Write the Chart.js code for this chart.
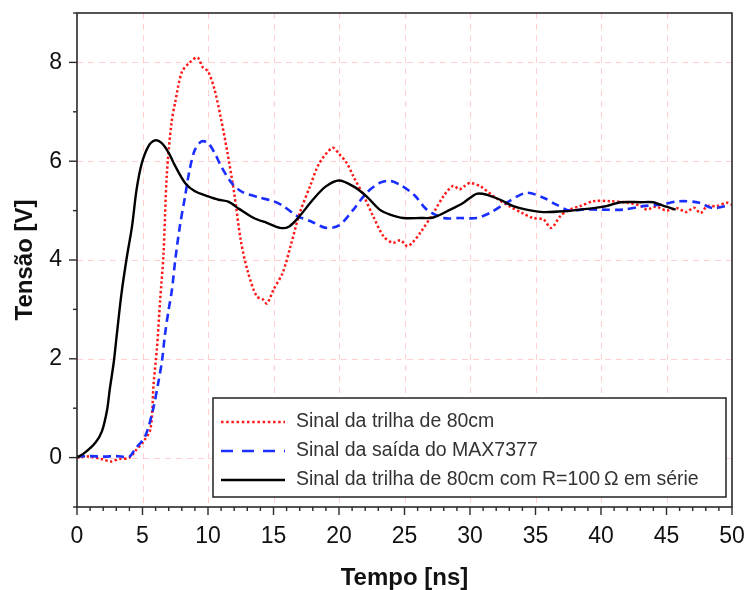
<!DOCTYPE html>
<html>
<head>
<meta charset="utf-8">
<script src="https://cdn.jsdelivr.net/npm/chart.js@4/dist/chart.umd.min.js"></script>
<style>
  html, body { margin: 0; padding: 0; background: #fff; }
  #wrap { width: 747px; height: 590px; }
</style>
</head>
<body>
<div id="wrap"><canvas id="c" width="747" height="590"></canvas></div>
<script>
// ---- data ----
const seriesNames = [
  'Sinal da trilha de 80cm',
  'Sinal da saída do MAX7377',
  'Sinal da trilha de 80cm com R=100\u2009Ω em série'
];
const xTicks = [0, 5, 10, 15, 20, 25, 30, 35, 40, 45, 50];
const yTicks = [0, 2, 4, 6, 8];

const redT = [0,1,2,2.6,3.2,4,4.5,5,5.6,5.85,6.1,6.35,6.6,6.85,7.2,7.5,8,8.6,9.2,9.6,10,10.5,11,11.5,12,12.5,13,13.7,14.2,14.5,15,15.7,16.3,17,17.8,18.5,19.5,20,20.6,21.1,21.9,22.6,23.4,24.1,24.7,25.2,25.6,26.2,27.2,28,28.7,29.2,29.6,30,30.8,31.8,33,34,34.8,35.6,36.2,36.9,37.6,38.4,39.4,40.7,42,43,43.5,44.2,45,45.8,46.5,47.1,47.6,48.1,48.8,49.6,50];
const redV = [0,0.02,-0.04,-0.08,-0.03,0,0.15,0.3,0.57,1.5,2.2,3.2,4.1,5.7,6.75,7.2,7.8,8.0,8.1,7.9,7.82,7.45,6.85,6.15,5.35,4.4,3.8,3.27,3.2,3.12,3.4,3.74,4.28,4.95,5.5,5.96,6.27,6.15,5.96,5.69,5.29,4.89,4.48,4.35,4.4,4.28,4.35,4.55,4.95,5.3,5.5,5.43,5.5,5.56,5.49,5.29,5.09,4.95,4.85,4.82,4.65,4.89,5.02,5.09,5.19,5.19,5.16,5.1,5.02,5.08,5.0,5.05,4.97,5.06,4.95,5.09,5.09,5.16,5.12];

const blueT = [0,1,2,3,4,4.4,5.2,5.8,6.2,6.5,6.7,7,7.25,7.5,7.85,8.25,8.6,9,9.5,10,10.5,11,11.8,12.6,14,15,15.75,16.8,17.8,19,20,21.1,22.1,23.1,23.9,24.8,25.8,26.7,28,29.2,30.5,31.5,32.8,34.3,35.6,36.6,37.6,38.5,40,41.7,43.2,44.5,46,47.5,48.5,49.5];
const blueV = [0.02,0.03,0.02,0.03,0.02,0.16,0.43,0.97,1.51,1.98,2.46,3.0,3.4,4.0,4.68,5.29,5.83,6.23,6.4,6.37,6.17,5.9,5.56,5.38,5.26,5.19,5.09,4.89,4.79,4.65,4.7,5.02,5.36,5.56,5.6,5.5,5.3,5.02,4.85,4.85,4.85,4.95,5.16,5.36,5.26,5.12,5.0,5.02,5.02,5.02,5.09,5.12,5.19,5.16,5.05,5.09];

const blackT = [0,0.6,1.4,1.9,2.3,2.5,2.8,3.05,3.4,3.8,4.2,4.55,4.95,5.45,5.95,6.45,7,7.5,8.25,9,10,10.8,11.55,12.4,13.5,14.5,15.5,16.2,17,18,19,20,21.1,22.1,23.1,23.9,24.9,26.2,27.2,28.5,29.5,30.5,31.3,32.3,33.3,34.3,35.6,37.4,38.4,39.4,40.4,41.5,43,44,44.5,45.7];
const blackV = [0,0.1,0.3,0.53,0.97,1.38,1.92,2.52,3.33,4.05,4.68,5.43,5.96,6.3,6.42,6.37,6.17,5.9,5.56,5.39,5.29,5.22,5.18,5.03,4.85,4.75,4.65,4.68,4.89,5.22,5.49,5.61,5.49,5.29,5.02,4.92,4.85,4.85,4.86,5.02,5.16,5.34,5.32,5.22,5.09,5.02,4.97,4.99,5.02,5.05,5.09,5.17,5.17,5.17,5.12,5.02];

const pts = (t, v) => t.map((x, i) => ({ x: x, y: v[i] }));

const FONT = "'Liberation Sans', Arial, sans-serif";

// grid, minor ticks, frame and boxed legend
const decor = {
  id: 'decor',
  beforeDatasetsDraw(chart) {
    const { ctx, chartArea: a, scales: { x, y } } = chart;
    ctx.save();
    ctx.strokeStyle = 'rgba(255,170,170,0.55)';
    ctx.lineWidth = 1;
    ctx.setLineDash([6, 5]);
    xTicks.forEach(v => {
      if (v === x.min || v === x.max) return;
      const px = Math.round(x.getPixelForValue(v)) + 0.5;
      ctx.beginPath(); ctx.moveTo(px, a.top); ctx.lineTo(px, a.bottom); ctx.stroke();
    });
    yTicks.forEach(v => {
      const py = Math.round(y.getPixelForValue(v)) + 0.5;
      ctx.beginPath(); ctx.moveTo(a.left, py); ctx.lineTo(a.right, py); ctx.stroke();
    });
    ctx.restore();
  },
  afterDatasetsDraw(chart) {
    const { ctx, chartArea: a, scales: { x, y } } = chart;
    ctx.save();
    ctx.setLineDash([]);
    ctx.strokeStyle = '#2a2a2a';
    ctx.lineWidth = 1.6;
    ctx.strokeRect(a.left, a.top, a.right - a.left, a.bottom - a.top);
    // ticks
    ctx.lineWidth = 1.4;
    for (let v = x.min; v <= x.max; v += 1) {
      const px = x.getPixelForValue(v);
      const len = (v % 5 === 0) ? 8 : 4;
      ctx.beginPath(); ctx.moveTo(px, a.bottom); ctx.lineTo(px, a.bottom + len); ctx.stroke();
    }
    for (let v = y.min; v <= y.max; v += 1) {
      const py = y.getPixelForValue(v);
      const len = (v % 2 === 0) ? 8 : 4;
      ctx.beginPath(); ctx.moveTo(a.left, py); ctx.lineTo(a.left - len, py); ctx.stroke();
    }
    // legend box
    const bx = 213, by = 398, bw = 513, bh = 99;
    ctx.fillStyle = '#fff';
    ctx.fillRect(bx, by, bw, bh);
    ctx.strokeStyle = '#222';
    ctx.lineWidth = 1.5;
    ctx.strokeRect(bx, by, bw, bh);
    const rows = [422, 451, 480];
    const legDash = [[2.5, 2.7], [12, 9], []];
    chart.data.datasets.forEach((ds, i) => {
      const ry = rows[i];
      ctx.save();
      ctx.strokeStyle = ds.borderColor;
      ctx.lineWidth = 2.6;
      ctx.setLineDash(legDash[i]);
      ctx.beginPath(); ctx.moveTo(221, ry); ctx.lineTo(285, ry); ctx.stroke();
      ctx.restore();
      ctx.fillStyle = '#333';
      ctx.font = '19.5px ' + FONT;
      ctx.textBaseline = 'middle';
      ctx.textAlign = 'left';
      ctx.fillText(ds.label, 296, ry);
    });
    ctx.restore();
  }
};

new Chart(document.getElementById('c'), {
  type: 'scatter',
  data: {
    datasets: [
      { label: seriesNames[0], data: pts(redT, redV), showLine: true, borderColor: '#ff1a1a',
        borderWidth: 2.5, borderDash: [2.4, 2.4], pointRadius: 0, tension: 0.3, order: 3 },
      { label: seriesNames[1], data: pts(blueT, blueV), showLine: true, borderColor: '#1a2eff',
        borderWidth: 2.6, borderDash: [8, 5], pointRadius: 0, tension: 0.3, order: 2 },
      { label: seriesNames[2], data: pts(blackT, blackV), showLine: true, borderColor: '#000000',
        borderWidth: 2.4, pointRadius: 0, tension: 0.3, order: 1 }
    ]
  },
  options: {
    responsive: false,
    animation: false,
    layout: { padding: { left: 0, top: 13, right: 15, bottom: 0 } },
    plugins: { legend: { display: false }, tooltip: { enabled: false } },
    scales: {
      x: {
        type: 'linear', min: 0, max: 50,
        afterBuildTicks: s => { s.ticks = xTicks.map(v => ({ value: v })); },
        afterFit: s => { s.height = 83; s.paddingLeft = 0; s.paddingRight = 0; },
        grid: { display: false, drawTicks: false },
        border: { display: false },
        ticks: { padding: 16, color: '#111', font: { family: FONT, size: 23 }, maxRotation: 0, autoSkip: false },
        title: { display: true, text: 'Tempo [ns]', color: '#111',
                 font: { family: FONT, size: 24, weight: 'bold', lineHeight: 1.0 }, padding: { top: 0, bottom: 0 } }
      },
      y: {
        type: 'linear', min: -1, max: 9,
        afterBuildTicks: s => { s.ticks = yTicks.map(v => ({ value: v })); },
        afterFit: s => { s.width = 77; s.paddingTop = 0; s.paddingBottom = 0; },
        grid: { display: false, drawTicks: false },
        border: { display: false },
        ticks: { padding: 15, color: '#111', font: { family: FONT, size: 23 }, autoSkip: false },
        title: { display: true, text: 'Tensão [V]', color: '#111',
                 font: { family: FONT, size: 24, weight: 'bold', lineHeight: 1.0 }, padding: { top: 13, bottom: 0 } }
      }
    }
  },
  plugins: [decor]
});
</script>
</body>
</html>
